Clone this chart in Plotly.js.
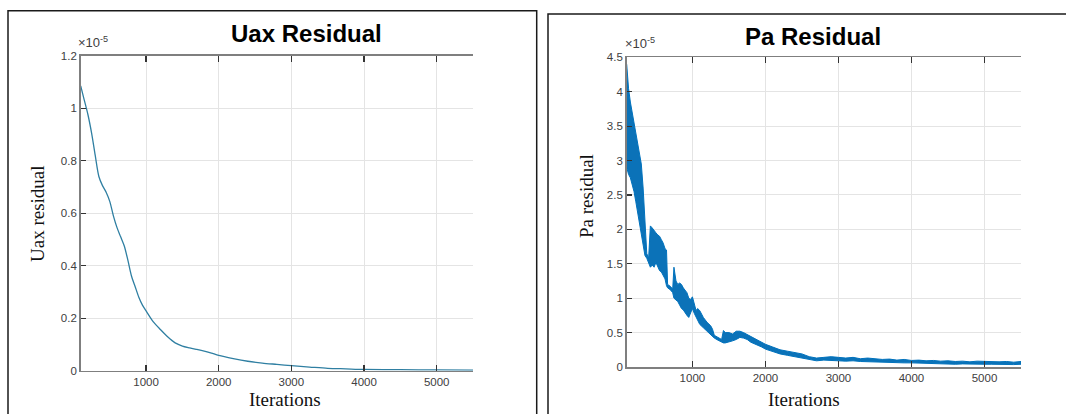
<!DOCTYPE html>
<html>
<head>
<meta charset="utf-8">
<script src="https://cdn.plot.ly/plotly-3.0.1.min.js"></script>
<style>
  html, body { margin: 0; padding: 0; background: #ffffff; }
  #chart { width: 1066px; height: 414px; }
</style>
</head>
<body>
<div id="chart"></div>
<script>
// ---- Data (values in units of 1e-5, as read on the axes) ----
const uaxIterations = [100,150,200,250,300,350,400,450,500,550,600,650,700,750,800,850,900,950,1000,1100,1200,1300,1400,1500,1600,1700,1800,1900,2000,2200,2400,2600,2800,3000,3250,3500,3750,4000,4500,5000,5500];
const uaxResidual   = [1.085,1.03,0.975,0.905,0.82,0.74,0.705,0.68,0.645,0.59,0.545,0.51,0.475,0.42,0.36,0.32,0.28,0.25,0.228,0.186,0.156,0.128,0.106,0.094,0.087,0.081,0.075,0.067,0.058,0.046,0.036,0.029,0.024,0.019,0.014,0.009,0.007,0.005,0.004,0.003,0.002];

const paIterations = [100,125,150,175,200,225,250,275,300,325,350,375,400,424,450,475,500,525,550,575,600,625,645,660,700,730,747,775,800,825,850,875,900,925,950,975,1000,1025,1050,1071,1100,1150,1200,1250,1275,1300,1350,1400,1425,1450,1500,1550,1600,1650,1700,1750,1800,1850,1900,1950,2000,2100,2200,2300,2400,2500,2600,2700,2800,2900,3000,3100,3200,3300,3400,3500,3600,3700,3800,3900,4000,4100,4200,4300,4400,4500,4600,4700,4800,4900,5000,5100,5200,5300,5400,5500];
const paResidualLow  = [2.9,2.8,2.75,2.65,2.55,2.4,2.25,2.1,1.95,1.75,1.62,1.58,1.52,1.45,1.48,1.45,1.52,1.45,1.4,1.38,1.32,1.28,1.18,1.15,1.12,1.08,1.0,0.98,0.95,0.9,0.85,0.83,0.78,0.75,0.72,0.8,0.85,0.78,0.72,0.68,0.62,0.57,0.52,0.48,0.45,0.42,0.39,0.36,0.35,0.35,0.36,0.38,0.4,0.43,0.42,0.4,0.36,0.34,0.31,0.29,0.26,0.22,0.19,0.17,0.15,0.13,0.1,0.09,0.1,0.09,0.09,0.085,0.09,0.08,0.075,0.07,0.075,0.07,0.065,0.06,0.06,0.055,0.05,0.055,0.05,0.045,0.04,0.045,0.04,0.045,0.04,0.04,0.035,0.04,0.035,0.04];
const paResidualHigh = [4.4,4.05,3.85,3.7,3.55,3.4,3.3,3.15,2.95,2.6,2.1,1.65,1.58,2.05,2.02,1.98,1.95,1.92,1.9,1.85,1.8,1.72,1.7,1.2,1.17,1.13,1.45,1.25,1.2,1.22,1.2,1.15,1.12,1.08,1.0,0.98,1.02,0.92,0.82,0.85,0.82,0.72,0.65,0.6,0.55,0.46,0.43,0.4,0.53,0.5,0.5,0.48,0.52,0.52,0.5,0.47,0.44,0.41,0.38,0.35,0.33,0.29,0.25,0.23,0.21,0.19,0.15,0.13,0.14,0.15,0.14,0.13,0.14,0.12,0.13,0.12,0.11,0.115,0.1,0.11,0.095,0.1,0.09,0.095,0.085,0.09,0.08,0.085,0.075,0.085,0.08,0.07,0.075,0.08,0.07,0.08];

const xTicks = [1000,2000,3000,4000,5000];
const uaxYTicks = [0,0.2,0.4,0.6,0.8,1,1.2];
const paYTicks = [0,0.5,1,1.5,2,2.5,3,3.5,4,4.5];

// ---- Styling ----
const W = 1066, H = 414;
const px = v => v / W;
const py = v => 1 - v / H;
const tickFont = {family: 'Arial, Liberation Sans, sans-serif', size: 11.5, color: '#404040'};
const expFont = {family: 'Arial, Liberation Sans, sans-serif', size: 13, color: '#404040'};
const serif = {family: 'Times New Roman, Liberation Serif, serif', size: 19, color: '#111111'};
const titleFont = {family: 'Arial, Liberation Sans, sans-serif', size: 24, color: '#000000'};

function xAxis(dom, anchor) {
  return {
    domain: dom, anchor: anchor, range: [100, 5500],
    tickvals: xTicks, ticktext: xTicks.map(String),
    showgrid: true, gridcolor: '#e4e4e4', gridwidth: 1,
    showline: true, linecolor: '#7f7f7f', linewidth: 1.6, mirror: 'ticks',
    ticks: 'inside', ticklen: 6, tickwidth: 1.2, tickcolor: '#333333',
    zeroline: false, tickfont: tickFont, fixedrange: true
  };
}
function yAxis(dom, anchor, range, vals) {
  return {
    domain: dom, anchor: anchor, range: range,
    tickvals: vals, ticktext: vals.map(String),
    showgrid: true, gridcolor: '#e4e4e4', gridwidth: 1,
    showline: true, linecolor: '#7f7f7f', linewidth: 1.6, mirror: false,
    ticks: 'inside', ticklen: 5, tickwidth: 1.2, tickcolor: '#333333',
    zeroline: false, tickfont: tickFont, fixedrange: true
  };
}

const traces = [
  {x: uaxIterations, y: uaxResidual, xaxis: 'x', yaxis: 'y', type: 'scatter', mode: 'lines',
   line: {color: '#2f7fa2', width: 1.3, shape: 'spline', smoothing: 0.8}, hoverinfo: 'skip'},
  {x: paIterations, y: paResidualLow, xaxis: 'x2', yaxis: 'y2', type: 'scatter', mode: 'lines',
   line: {color: '#0072bd', width: 1}, hoverinfo: 'skip'},
  {x: paIterations, y: paResidualHigh, xaxis: 'x2', yaxis: 'y2', type: 'scatter', mode: 'lines',
   line: {color: '#0072bd', width: 1}, fill: 'tonexty', fillcolor: '#0b72b8', hoverinfo: 'skip'}
];

const layout = {
  width: W, height: H,
  margin: {l: 0, r: 0, t: 0, b: 0},
  paper_bgcolor: '#ffffff', plot_bgcolor: '#ffffff',
  showlegend: false,
  xaxis: xAxis([px(80.7), px(473)], 'y'),
  yaxis: yAxis([py(370.7), py(55.7)], 'x', [0, 1.2], uaxYTicks),
  xaxis2: xAxis([px(626.7), px(1021)], 'y2'),
  yaxis2: yAxis([py(367), py(57.3)], 'x2', [0, 4.5], paYTicks),
  shapes: [
    {type: 'rect', xref: 'paper', yref: 'paper', x0: px(8), x1: px(536.7), y0: py(430), y1: py(10.7),
     line: {color: '#1a1a1a', width: 1.5}, fillcolor: 'rgba(0,0,0,0)'},
    {type: 'rect', xref: 'paper', yref: 'paper', x0: px(548), x1: px(1080), y0: py(430), y1: py(14),
     line: {color: '#1a1a1a', width: 1.5}, fillcolor: 'rgba(0,0,0,0)'}
  ],
  annotations: [
    {text: '<b>Uax Residual</b>', xref: 'paper', yref: 'paper', x: px(306), y: py(33), xanchor: 'center', yanchor: 'middle', showarrow: false, font: titleFont},
    {text: '<b>Pa Residual</b>', xref: 'paper', yref: 'paper', x: px(813), y: py(37), xanchor: 'center', yanchor: 'middle', showarrow: false, font: titleFont},
    {text: 'Uax residual', xref: 'paper', yref: 'paper', x: px(38), y: py(214), xanchor: 'center', yanchor: 'middle', textangle: -90, showarrow: false, font: serif},
    {text: 'Pa residual', xref: 'paper', yref: 'paper', x: px(586), y: py(196), xanchor: 'center', yanchor: 'middle', textangle: -90, showarrow: false, font: serif},
    {text: 'Iterations', xref: 'paper', yref: 'paper', x: px(285), y: py(399), xanchor: 'center', yanchor: 'middle', showarrow: false, font: serif},
    {text: 'Iterations', xref: 'paper', yref: 'paper', x: px(804), y: py(399), xanchor: 'center', yanchor: 'middle', showarrow: false, font: serif},
    {text: '×10<sup>-5</sup>', xref: 'paper', yref: 'paper', x: px(77), y: py(51), xanchor: 'left', yanchor: 'bottom', showarrow: false, font: expFont, borderpad: 0},
    {text: '×10<sup>-5</sup>', xref: 'paper', yref: 'paper', x: px(624), y: py(52), xanchor: 'left', yanchor: 'bottom', showarrow: false, font: expFont, borderpad: 0}
  ]
};

Plotly.newPlot('chart', traces, layout, {staticPlot: true, displayModeBar: false});
</script>
</body>
</html>
